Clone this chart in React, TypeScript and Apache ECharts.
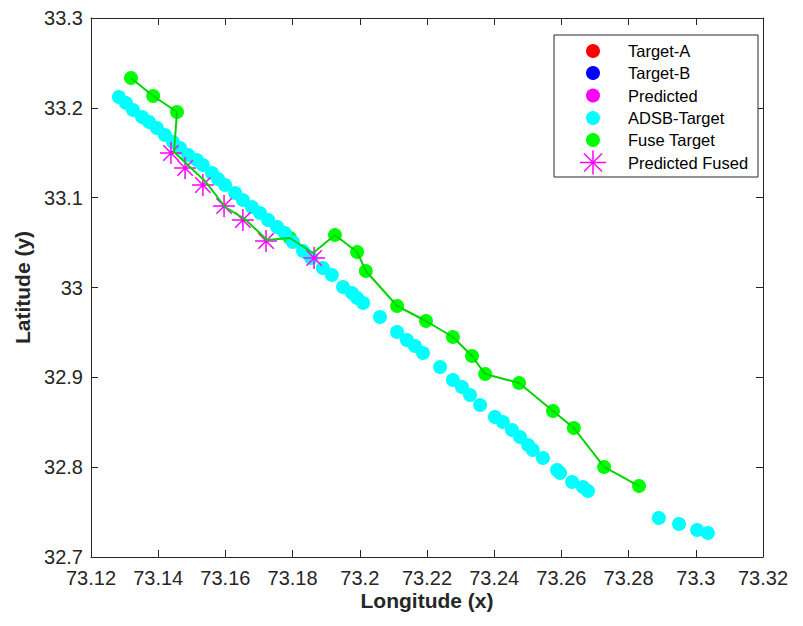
import React, { useEffect, useRef } from "react";
import * as echarts from "echarts";

// ADSB-Target track
const adsbLon = [73.1283,73.1304,73.1325,73.1352,73.1373,73.1396,73.1420,73.1444,73.1465,73.1489,73.1515,73.1533,73.1560,73.1578,73.1599,73.1629,73.1652,73.1679,73.1703,73.1727,73.1754,73.1777,73.1801,73.1831,73.1855,73.1890,73.1917,73.1950,73.1977,73.1992,73.2010,73.2060,73.2111,73.2140,73.2164,73.2188,73.2239,73.2277,73.2304,73.2328,73.2358,73.2402,73.2426,73.2453,73.2477,73.2501,73.2515,73.2545,73.2587,73.2596,73.2632,73.2664,73.2679,73.2890,73.2950,73.3004,73.3036];
const adsbLat = [33.2121,33.2054,33.1976,33.1898,33.1842,33.1775,33.1698,33.1620,33.1553,33.1475,33.1419,33.1364,33.1275,33.1208,33.1141,33.1052,33.0974,33.0896,33.0829,33.0751,33.0673,33.0607,33.0506,33.0406,33.0328,33.0217,33.0139,33.0005,32.9939,32.9883,32.9827,32.9671,32.9504,32.9415,32.9349,32.9271,32.9115,32.8970,32.8892,32.8803,32.8692,32.8558,32.8503,32.8414,32.8336,32.8247,32.8191,32.8102,32.7968,32.7935,32.7835,32.7779,32.7734,32.7434,32.7367,32.7300,32.7267];

// Fuse Target markers
const fuseLon = [73.1319,73.1385,73.1456,73.1792,73.1926,73.1992,73.2018,73.2111,73.2197,73.2277,73.2334,73.2373,73.2474,73.2575,73.2637,73.2727,73.2831];
const fuseLat = [33.2332,33.2132,33.1954,33.0551,33.0584,33.0395,33.0184,32.9794,32.9627,32.9449,32.9237,32.9037,32.8937,32.8625,32.8436,32.8002,32.7790];

// Fused track line (fused + predicted fused positions)
const trackLon = [73.1319,73.1385,73.1456,73.1447,73.1542,73.1599,73.1658,73.1724,73.1792,73.1861,73.1926,73.1992,73.2018,73.2111,73.2197,73.2277,73.2334,73.2373,73.2474,73.2575,73.2637,73.2727,73.2831];
const trackLat = [33.2332,33.2132,33.1954,33.1508,33.1174,33.0896,33.0762,33.0529,33.0551,33.0384,33.0584,33.0395,33.0184,32.9794,32.9627,32.9449,32.9237,32.9037,32.8937,32.8625,32.8436,32.8002,32.7790];

// Predicted Fused
const predFusedLon = [73.1438,73.1480,73.1533,73.1596,73.1652,73.1721,73.1864];
const predFusedLat = [33.1497,33.1330,33.1141,33.0907,33.0751,33.0518,33.0328];

// Empty series shown in legend
const targetA: number[][] = [];
const targetB: number[][] = [];
const predicted: number[][] = [];

const legendNames = ["Target-A", "Target-B", "Predicted", "ADSB-Target", "Fuse Target", "Predicted Fused"];
const legendColors = ["#ff0000", "#0000ff", "#ff00ff", "#00ffff", "#00ff00", "#ff00ff"];

const xMin = 73.12, xMax = 73.32, xStep = 0.02;
const yMin = 32.7, yMax = 33.3, yStep = 0.1;

const zip = (a: number[], b: number[]) => a.map((v, i) => [v, b[i]]);

const STAR = "path://M0 10 L20 10 M10 0 L10 20 M3 3 L17 17 M17 3 L3 17";
const AX = "#262626";
const FONT = "'Liberation Sans', Arial, sans-serif";

export default function App() {
  const ref = useRef<HTMLDivElement>(null);
  useEffect(() => {
    const chart = echarts.init(ref.current!, undefined, { renderer: "svg" });

    const legendGraphics: any[] = [];
    const lx = 554, ly = 35, lw = 204, lh = 142;
    legendGraphics.push({
      type: "rect", shape: { x: lx, y: ly, width: lw, height: lh },
      style: { fill: "#fff", stroke: AX, lineWidth: 1 }, z: 100,
    });
    const rowY = [51, 73, 95.5, 118, 140, 162.5];
    legendNames.forEach((n, i) => {
      const cy = rowY[i];
      if (i < 5) {
        legendGraphics.push({ type: "circle", shape: { cx: 593, cy, r: 7 }, style: { fill: legendColors[i] }, z: 101 });
      } else {
        const segs = [[-13, 0, 13, 0], [0, -12, 0, 12], [-9, -9, 9, 9], [9, -9, -9, 9]];
        segs.forEach((s) => legendGraphics.push({
          type: "line", shape: { x1: 593 + s[0], y1: cy + s[1], x2: 593 + s[2], y2: cy + s[3] },
          style: { stroke: legendColors[i], lineWidth: 1.5 }, z: 101,
        }));
      }
      legendGraphics.push({
        type: "text", x: 628, y: cy,
        style: { text: n, fill: "#000", font: `16.5px ${FONT}`, verticalAlign: "middle", align: "left" }, z: 101,
      });
    });

    const fmt2 = (v: number) => String(parseFloat(v.toFixed(2)));
    const fmt1 = (v: number) => String(parseFloat(v.toFixed(1)));
    const axLine = { show: true, onZero: false, lineStyle: { color: AX, width: 1 } };
    const axTick = { show: true, inside: true, length: 7, lineStyle: { color: AX, width: 1 } };

    chart.setOption({
      animation: false,
      backgroundColor: "#fff",
      grid: { left: 91, right: 40, top: 18, bottom: 69, containLabel: false },
      xAxis: [
        {
          type: "value", min: xMin, max: xMax, interval: xStep, position: "bottom",
          name: "Longitude (x)", nameLocation: "middle", nameGap: 33, nameMoveOverlap: false,
          nameTextStyle: { fontFamily: FONT, fontSize: 21, lineHeight: 21, fontWeight: "bold", color: AX },
          axisLine: axLine, axisTick: axTick, splitLine: { show: false },
          axisLabel: { formatter: fmt2, fontFamily: FONT, fontSize: 20, lineHeight: 20, color: AX, margin: 11, showMinLabel: true, showMaxLabel: true },
        },
        {
          type: "value", min: xMin, max: xMax, interval: xStep, position: "top",
          axisLine: axLine, axisTick: axTick, splitLine: { show: false }, axisLabel: { show: false },
        },
      ],
      yAxis: [
        {
          type: "value", min: yMin, max: yMax, interval: yStep, position: "left",
          name: "Latitude (y)", nameLocation: "middle", nameGap: 49,
          nameTextStyle: { fontFamily: FONT, fontSize: 21, fontWeight: "bold", color: AX },
          axisLine: axLine, axisTick: axTick, splitLine: { show: false },
          axisLabel: { formatter: fmt1, fontFamily: FONT, fontSize: 20, color: AX, margin: 8, showMinLabel: true, showMaxLabel: true },
        },
        {
          type: "value", min: yMin, max: yMax, interval: yStep, position: "right",
          axisLine: axLine, axisTick: axTick, splitLine: { show: false }, axisLabel: { show: false },
        },
      ],
      series: [
        { name: "Target-A", type: "scatter", data: targetA, itemStyle: { color: "#ff0000" } },
        { name: "Target-B", type: "scatter", data: targetB, itemStyle: { color: "#0000ff" } },
        { name: "Predicted", type: "scatter", data: predicted, itemStyle: { color: "#ff00ff" } },
        {
          name: "Fuse Target", type: "scatter", data: zip(fuseLon, fuseLat),
          symbol: "circle", symbolSize: 14, itemStyle: { color: "#00ff00", opacity: 1 },
        },
        {
          name: "ADSB-Target", type: "scatter", data: zip(adsbLon, adsbLat),
          symbol: "circle", symbolSize: 14, itemStyle: { color: "#00ffff", opacity: 1 },
        },
        {
          name: "Fuse Track", type: "line", data: zip(trackLon, trackLat), showSymbol: false,
          lineStyle: { color: "#00d400", width: 2 },
        },
        {
          name: "Predicted Fused", type: "scatter", data: zip(predFusedLon, predFusedLat),
          symbol: STAR, symbolSize: 22, symbolKeepAspect: true,
          itemStyle: { color: "none", borderColor: "#ff00ff", borderWidth: 1.5, opacity: 1 },
        },
      ],
      graphic: legendGraphics,
    });
    return () => chart.dispose();
  }, []);
  return <div ref={ref} style={{ position: "fixed", left: 0, top: 0, width: 803, height: 626 }} />;
}
